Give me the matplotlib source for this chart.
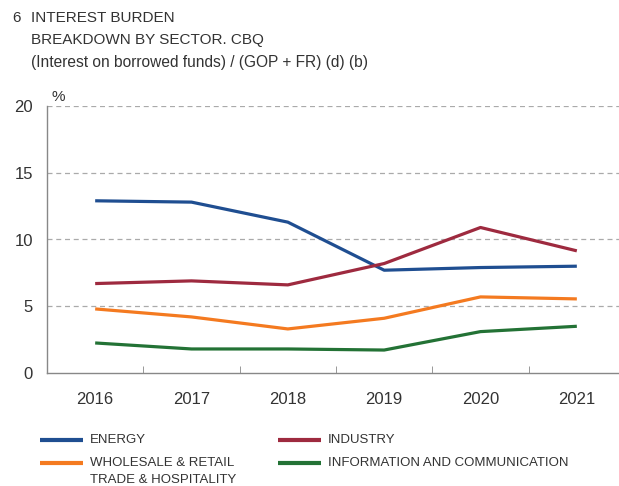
import numpy as np
import matplotlib
matplotlib.use("Agg")
import matplotlib.pyplot as plt
from matplotlib.lines import Line2D

plt.rcParams['font.family'] = ['Liberation Sans', 'DejaVu Sans']

years = ['2016', '2017', '2018', '2019', '2020', '2021']
energy = [12.9, 12.8, 11.3, 7.7, 7.9, 8.0]
industry = [6.7, 6.9, 6.6, 8.2, 10.9, 9.15]
wholesale = [4.8, 4.2, 3.3, 4.1, 5.7, 5.55]
infocom = [2.25, 1.8, 1.8, 1.72, 3.1, 3.5]

series_names = ['ENERGY', 'INDUSTRY', 'WHOLESALE & RETAIL\nTRADE & HOSPITALITY',
                'INFORMATION AND COMMUNICATION']
colors = ['#1f4e91', '#9e2a3f', '#f47a20', '#237235']

txt = '#333333'
W, H = 619, 486
fig = plt.figure(figsize=(W / 100, H / 100), dpi=100)
ax = fig.add_axes([47 / W, 1 - 373 / H, (625 - 47) / W, (373 - 106) / H])

x = np.arange(len(years))
for vals, c in zip([energy, industry, wholesale, infocom], colors):
    ax.plot(x, vals, color=c, lw=2.3, solid_capstyle='butt', zorder=3)

ax.set_xlim(-0.5, 5.5)
ax.set_ylim(0, 20)
ax.set_yticks([0, 5, 10, 15, 20])
ax.set_xticks(x)
ax.set_xticklabels(years)
ax.set_xticks(np.arange(0.5, 5.5, 1), minor=True)
ax.tick_params(axis='x', which='major', length=0, pad=14, labelsize=12, labelcolor=txt)
ax.tick_params(axis='x', which='minor', length=5, direction='in', color='#888888')
ax.tick_params(axis='y', length=0, pad=10, labelsize=12, labelcolor=txt)
for yv in [5, 10, 15, 20]:
    ax.axhline(yv, color='#aaaaaa', lw=0.9, ls=(0, (4, 3)), zorder=1)
for s in ['top', 'right']:
    ax.spines[s].set_visible(False)
for s in ['left', 'bottom']:
    ax.spines[s].set_color('#888888')
    ax.spines[s].set_linewidth(1.0)

fig.text(52 / W, 1 - 97 / H, '%', fontsize=11, color=txt, va='center', ha='left')

# title
fig.text(12 / W, 1 - 18 / H, '6', fontsize=11, color=txt, va='center')
fig.text(31 / W, 1 - 18 / H, 'INTEREST BURDEN', fontsize=11, color=txt, va='center')
fig.text(31 / W, 1 - 40 / H, 'BREAKDOWN BY SECTOR. CBQ', fontsize=11, color=txt, va='center')
fig.text(31 / W, 1 - 62 / H, '(Interest on borrowed funds) / (GOP + FR) (d) (b)',
         fontsize=11.2, color=txt, va='center')

# legend
leg_pos = [(40, 440), (278, 440), (40, 463), (278, 463)]
for (lx, ly), name, c in zip(leg_pos, series_names, colors):
    fig.add_artist(Line2D([lx / W, (lx + 43) / W], [1 - ly / H, 1 - ly / H],
                          color=c, lw=3, solid_capstyle='butt'))
    fig.text((lx + 50) / W, 1 - (ly - 6) / H, name, fontsize=9.5, color=txt,
             va='top', ha='left', linespacing=1.5)

fig.savefig('out.png', dpi=100)
